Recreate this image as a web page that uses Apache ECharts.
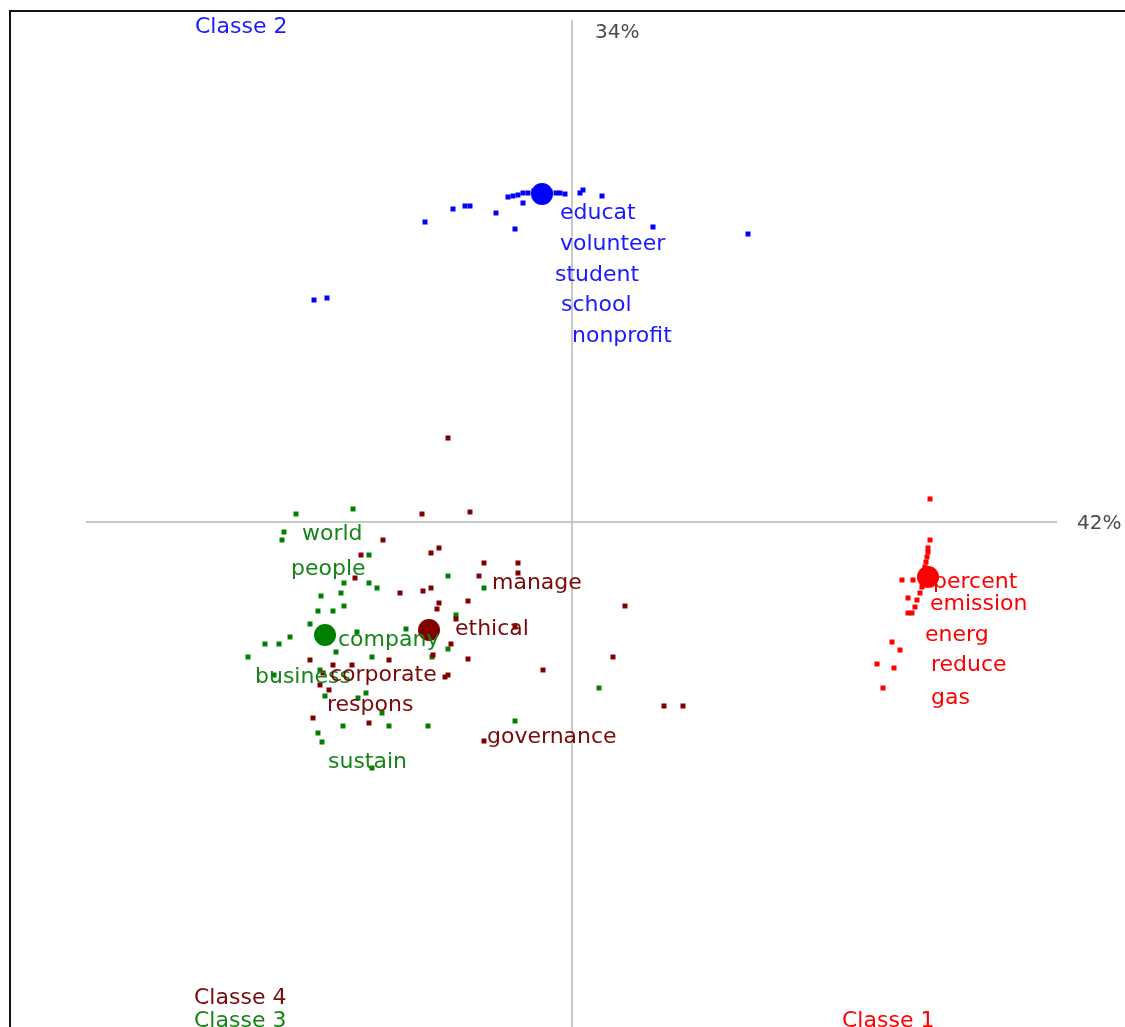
<!DOCTYPE html>
<html>
<head>
<meta charset="utf-8">
<title>Classes</title>
<script src="https://cdn.jsdelivr.net/npm/echarts@6/dist/echarts.min.js"></script>
<style>
  html, body { margin: 0; padding: 0; background: #fff; }
  #chart { width: 1125px; height: 1027px; }
</style>
</head>
<body>
<div id="chart"></div>
<script>
// points per class (factor 1 = x, factor 2 = y)
var class1Points = [[3.58,0.23],[3.58,-0.18],[3.56,-0.26],[3.56,-0.30],[3.55,-0.35],[3.54,-0.40],[3.53,-0.45],
  [3.58,-0.48],[3.64,-0.56],[3.30,-0.58],[3.41,-0.58],[3.50,-0.65],[3.48,-0.71],[3.36,-0.76],[3.45,-0.78],
  [3.43,-0.85],[3.40,-0.91],[3.36,-0.91],[3.20,-1.20],[3.28,-1.28],[3.05,-1.42],[3.22,-1.46],[3.11,-1.66]];
var class2Points = [[-0.64,3.25],[-0.59,3.26],[-0.54,3.27],[-0.49,3.29],[-0.44,3.29],[-0.38,3.31],[-0.22,3.30],
  [-0.16,3.29],[-0.12,3.29],[-0.07,3.28],[0.08,3.29],[0.11,3.32],[0.30,3.26],[-0.49,3.19],[-1.19,3.13],
  [-1.07,3.16],[-1.02,3.16],[-0.76,3.09],[-1.47,3.00],[-0.57,2.93],[0.81,2.95],[1.76,2.88],[-2.58,2.22],[-2.45,2.24]];
var class3Points = [[-2.76,0.08],[-2.19,0.13],[-2.88,-0.10],[-2.90,-0.18],[-2.03,-0.33],[-2.28,-0.61],[-2.03,-0.61],
  [-1.95,-0.66],[-1.24,-0.54],[-0.88,-0.66],[-2.51,-0.74],[-2.31,-0.71],[-2.28,-0.84],[-2.54,-0.89],[-2.39,-0.89],
  [-2.62,-1.02],[-2.15,-1.10],[-1.66,-1.07],[-1.16,-0.93],[-2.82,-1.15],[-3.07,-1.22],[-2.93,-1.22],[-3.24,-1.35],
  [-2.36,-1.30],[-2.00,-1.35],[-2.98,-1.53],[-2.52,-1.48],[-2.47,-1.74],[-2.06,-1.71],[-2.14,-1.76],[-1.90,-1.91],
  [-2.29,-2.04],[-1.83,-2.04],[-1.44,-2.04],[-2.54,-2.11],[-2.50,-2.20],[-0.57,-1.99],[-2.00,-2.46],[-1.40,-1.35],
  [-1.24,-1.27],[0.27,-1.66]];
var class4Points = [[-1.24,0.84],[-1.50,0.08],[-1.02,0.10],[-1.89,-0.18],[-1.41,-0.31],[-1.33,-0.26],[-2.11,-0.33],
  [-0.88,-0.41],[-0.54,-0.41],[-0.54,-0.51],[-0.93,-0.54],[-2.17,-0.56],[-1.72,-0.71],[-1.49,-0.69],[-1.41,-0.66],
  [-1.33,-0.81],[-1.35,-0.87],[-1.04,-0.79],[0.53,-0.84],[-1.16,-0.97],[-0.57,-1.05],[-1.21,-1.22],[-1.39,-1.33],
  [-1.04,-1.37],[-0.29,-1.48],[0.41,-1.35],[-1.24,-1.53],[-1.27,-1.55],[-2.62,-1.38],[-2.39,-1.43],[-2.20,-1.43],
  [-1.83,-1.38],[-2.43,-1.68],[-2.49,-1.51],[-2.52,-1.63],[-2.59,-1.96],[-2.03,-2.01],[0.92,-1.84],[1.11,-1.84],
  [-0.88,-2.19]];

// class centres
var centroids = [[3.56,-0.55],[-0.30,3.28],[-2.47,-1.13],[-1.43,-1.08]];

// words: [x, y, word]
var class1Words = [[3.61,-0.60,'percent'],[3.58,-0.82,'emission'],[3.53,-1.13,'energ'],[3.59,-1.43,'reduce'],[3.59,-1.76,'gas']];
var class2Words = [[-0.12,3.09,'educat'],[-0.12,2.78,'volunteer'],[-0.17,2.47,'student'],[-0.11,2.17,'school'],[0.00,1.86,'nonprofit']];
var class3Words = [[-2.70,-0.12,'world'],[-2.81,-0.47,'people'],[-2.34,-1.18,'company'],[-3.17,-1.55,'business'],[-2.44,-2.40,'sustain']];
var class4Words = [[-0.80,-0.61,'manage'],[-1.17,-1.07,'ethical'],[-2.42,-1.53,'corporate'],[-2.45,-1.83,'respons'],[-0.85,-2.15,'governance']];

var classNames = [[2.70,-4.99,'Classe 1'],[-3.77,4.95,'Classe 2'],[-3.78,-4.99,'Classe 3'],[-3.78,-4.76,'Classe 4']];
var axisPercents = [[0.23,4.89,'34%'],[5.05,-0.02,'42%']];

var colors = ['#ff0000', '#0000ff', '#008000', '#800000'];
var textColors = ['#ff0000', '#1a1aff', '#168516', '#7a0a0a'];

var xLine = [[0, 5.02], [0, -5.05]];
var yLine = [[-4.86, 0], [4.85, 0]];

var font = 'DejaVu Sans';

function pointSeries(data, color) {
    return {
        type: 'scatter',
        data: data,
        symbol: 'rect',
        symbolSize: 5,
        itemStyle: { color: color, opacity: 1 },
        silent: true,
        z: 3
    };
}

function wordSeries(data, color, size) {
    return {
        type: 'scatter',
        data: data,
        symbolSize: 0,
        silent: true,
        z: 6,
        itemStyle: { opacity: 1 },
        label: {
            show: true,
            position: 'right',
            distance: 0,
            color: color,
            opacity: 1,
            fontFamily: font,
            fontSize: size || 22,
            formatter: function (p) { return p.data[2]; }
        }
    };
}

var chart = echarts.init(document.getElementById('chart'));

var option = {
    animation: false,
    grid: { left: 0, right: 0, top: 0, bottom: 0 },
    xAxis: { type: 'value', min: -5.72, max: 5.53, show: false },
    yAxis: { type: 'value', min: -5.05, max: 5.22, show: false },
    graphic: [{
        type: 'rect',
        shape: { x: 10, y: 11, width: 1300, height: 1200 },
        style: { fill: 'none', stroke: '#111', lineWidth: 2 },
        z: 100
    }],
    series: [
        {
            type: 'line', data: xLine, symbol: 'none', silent: true, z: 1,
            lineStyle: { color: '#c8c8c8', width: 2 }
        },
        {
            type: 'line', data: yLine, symbol: 'none', silent: true, z: 1,
            lineStyle: { color: '#c8c8c8', width: 2 }
        },
        pointSeries(class3Points, colors[2]),
        pointSeries(class4Points, colors[3]),
        pointSeries(class2Points, colors[1]),
        pointSeries(class1Points, colors[0]),
        {
            type: 'scatter',
            data: centroids,
            symbolSize: 22,
            silent: true,
            z: 4,
            itemStyle: {
                opacity: 1,
                color: function (p) { return colors[p.dataIndex]; }
            }
        },
        wordSeries(class1Words, textColors[0]),
        wordSeries(class2Words, textColors[1]),
        wordSeries(class3Words, textColors[2]),
        wordSeries(class4Words, textColors[3]),
        {
            type: 'scatter',
            data: classNames.map(function (c, i) {
                return { value: c, label: { color: textColors[i] } };
            }),
            symbolSize: 0,
            silent: true,
            z: 6,
            itemStyle: { opacity: 1 },
            label: {
                show: true,
                position: 'right',
                distance: 0,
                opacity: 1,
                fontFamily: font,
                fontSize: 22,
                formatter: function (p) { return p.value[2]; }
            }
        },
        wordSeries(axisPercents, '#4a4a4a', 20)
    ]
};

chart.setOption(option);
</script>
</body>
</html>
